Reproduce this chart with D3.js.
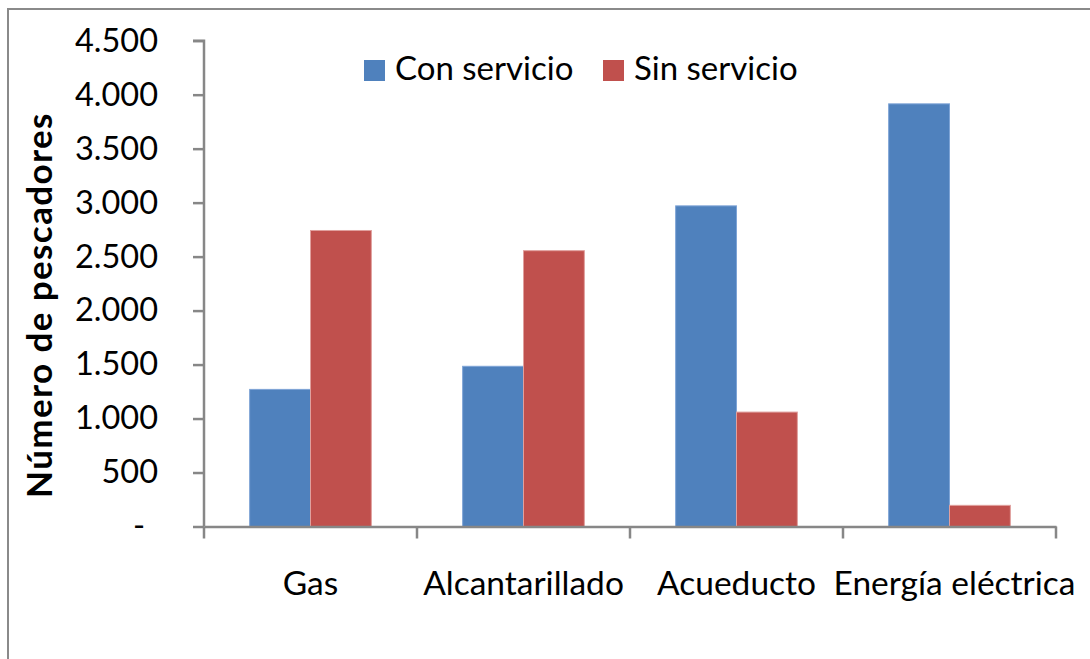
<!DOCTYPE html>
<html><head><meta charset="utf-8">
<script src="https://cdn.jsdelivr.net/npm/d3@7"></script>
<style>html,body{margin:0;padding:0;background:#fff;overflow:hidden}text{font-family:Lato,"Open Sans",sans-serif}</style>
</head><body>
<svg id="c" width="1090" height="659"></svg>
<script>
const categories = ["Gas","Alcantarillado","Acueducto","Energía eléctrica"];
const seriesNames = ["Con servicio","Sin servicio"];
const conServicio = [1270, 1484, 2970, 3915];
const sinServicio = [2742, 2555, 1060, 196];
const yTicks = [0,500,1000,1500,2000,2500,3000,3500,4000,4500];
const yTickLabels = ["-","500","1.000","1.500","2.000","2.500","3.000","3.500","4.000","4.500"];
const colors = ["#4F81BD","#C0504D"];
const strokes = ["#7ea4d6","#e0a09e"];

(function(){
const svg = d3.select("#c");
svg.append("rect").attr("x",8).attr("y",9).attr("width",1200).attr("height",800)
  .attr("fill","none").attr("stroke","#8a8a8a").attr("stroke-width",2);

const pL=204, pR=1056, pT=40.7, pB=526.5;
const x0 = d3.scaleBand().domain(categories).range([pL,pR]).padding(0);
const x1 = d3.scaleBand().domain(seriesNames).range([0,x0.bandwidth()]).paddingInner(0).paddingOuter(0.75);
const y = d3.scaleLinear().domain([0,4500]).range([pB,pT]);

const data = categories.map((c,i)=>({cat:c, vals:[conServicio[i], sinServicio[i]]}));
const g = svg.append("g");
data.forEach(d=>{
  d.vals.forEach((v,j)=>{
    g.append("rect")
      .attr("x", x0(d.cat)+x1(seriesNames[j]))
      .attr("y", y(v))
      .attr("width", x1.bandwidth())
      .attr("height", y(0)-y(v))
      .attr("fill", colors[j])
      .attr("stroke", strokes[j]).attr("stroke-width",1);
  });
});

// Y axis
const yAxis = d3.axisLeft(y).tickValues(yTicks).tickSize(11).tickPadding(35)
  .tickFormat((d,i)=>yTickLabels[i]);
const ya = svg.append("g").attr("transform",`translate(${pL},0)`).call(yAxis);
ya.select(".domain").attr("stroke","#878787").attr("stroke-width",2.5).attr("d",`M-11,${pT}H0V${pB}`);
ya.selectAll(".tick line").attr("stroke","#878787").attr("stroke-width",2.5);
ya.selectAll(".tick text").attr("font-size",32.5).attr("fill","#000").attr("font-family","Lato");
ya.selectAll(".tick").filter(d=>d===0).select("text").attr("dx",-13);

// X axis
const xAxis = d3.axisBottom(x0).tickSize(0).tickPadding(45);
const xa = svg.append("g").attr("transform",`translate(0,${pB})`).call(xAxis);
xa.select(".domain").attr("stroke","#878787").attr("stroke-width",2.5);
xa.selectAll(".tick text").attr("font-size",33.5).attr("fill","#000").attr("font-family","Lato");
const edges = categories.map(c=>x0(c)).concat([pR]);
xa.selectAll(".edge").data(edges).enter().append("line")
  .attr("x1",d=>d).attr("x2",d=>d).attr("y1",0).attr("y2",12)
  .attr("stroke","#878787").attr("stroke-width",2.5);
xa.selectAll(".tick").each(function(d,i){ if(i===3) d3.select(this).select("text").attr("dx",5); });

// Y title
svg.append("text").attr("transform","translate(52,305) rotate(-90)")
  .attr("text-anchor","middle").attr("font-size",35).attr("font-weight","bold")
  .attr("letter-spacing",1.4)
  .attr("fill","#000").text("Número de pescadores");

// Legend
const lg = svg.append("g");
const legX = [364, 603];
seriesNames.forEach((s,j)=>{
  lg.append("rect").attr("x",legX[j]).attr("y",60).attr("width",21).attr("height",21).attr("fill",colors[j]);
  lg.append("text").attr("x",legX[j]+31).attr("y",80).attr("font-size",33).attr("fill","#000").text(s);
});
})();
</script>
</body></html>
